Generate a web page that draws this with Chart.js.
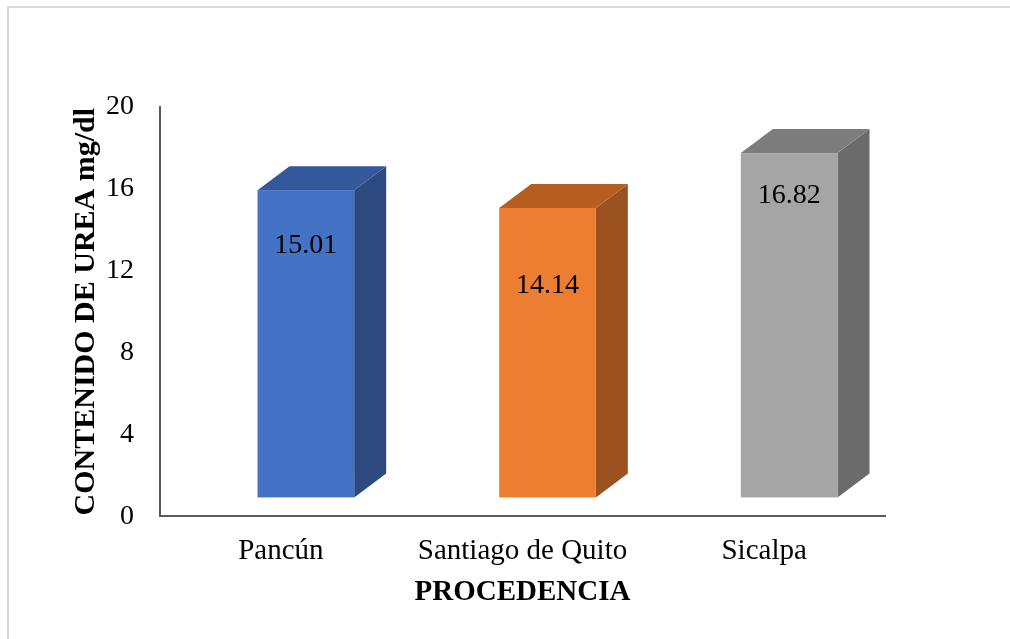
<!DOCTYPE html>
<html>
<head>
<meta charset="utf-8">
<script src="https://cdn.jsdelivr.net/npm/chart.js@4/dist/chart.umd.min.js"></script>
<style>
  html, body { margin: 0; padding: 0; background: #fff; }
  #wrap { width: 1010px; height: 639px; position: relative; }
</style>
</head>
<body>
<div id="wrap"><canvas id="chart" width="1010" height="639"></canvas></div>
<script>
const categories = ['Pancún', 'Santiago de Quito', 'Sicalpa'];
const ureaValues = [15.01, 14.14, 16.82];
const yMin = 0, yMax = 20, yStep = 4;

// face colours per bar: front, top, right side
const frontColors = ['#4472C4', '#ED7D31', '#A5A5A5'];
const topColors = ['#34599B', '#B65E22', '#7D7D7D'];
const sideColors = ['#2C4A80', '#9B521F', '#6B6B6B'];

const serif = "'Liberation Serif', 'Times New Roman', serif";

// light frame around the figure
const framePlugin = {
  id: 'frame',
  beforeDraw(chart) {
    const ctx = chart.ctx;
    ctx.save();
    ctx.fillStyle = '#fff';
    ctx.fillRect(0, 0, chart.width, chart.height);
    ctx.strokeStyle = '#d9d9d9';
    ctx.lineWidth = 2;
    ctx.strokeRect(8, 7, chart.width + 20, chart.height + 20);
    ctx.restore();
  }
};

// draws each bar as a box (front, top, side) from the bar element geometry
const boxPlugin = {
  id: 'box3d',
  afterDatasetsDraw(chart, args, opts) {
    const ctx = chart.ctx;
    const meta = chart.getDatasetMeta(0);
    ctx.save();
    meta.data.forEach((el, i) => {
      const w = el.width;
      const x0 = el.x - w / 2 + opts.shiftX;
      const x1 = x0 + w;
      const top = el.y - opts.lift;
      const bot = el.base - opts.lift;
      const dx = opts.depthX, dy = opts.depthY;

      // side
      ctx.fillStyle = sideColors[i];
      ctx.beginPath();
      ctx.moveTo(x1, top);
      ctx.lineTo(x1 + dx, top - dy);
      ctx.lineTo(x1 + dx, bot - dy);
      ctx.lineTo(x1, bot);
      ctx.closePath();
      ctx.fill();

      // top
      ctx.fillStyle = topColors[i];
      ctx.beginPath();
      ctx.moveTo(x0, top);
      ctx.lineTo(x0 + dx, top - dy);
      ctx.lineTo(x1 + dx, top - dy);
      ctx.lineTo(x1, top);
      ctx.closePath();
      ctx.fill();

      // front
      ctx.fillStyle = frontColors[i];
      ctx.fillRect(x0, top, w, bot - top);

      // value label
      ctx.fillStyle = '#000';
      ctx.font = '28px ' + serif;
      ctx.textAlign = 'center';
      ctx.textBaseline = 'middle';
      ctx.fillText(ureaValues[i].toFixed(2), x0 + w / 2, top + opts.labelDrop[i]);
    });
    ctx.restore();
  }
};

new Chart(document.getElementById('chart'), {
  type: 'bar',
  data: {
    labels: categories,
    datasets: [{
      data: ureaValues,
      backgroundColor: 'rgba(0,0,0,0)',
      borderWidth: 0,
      barPercentage: 0.4,
      categoryPercentage: 1
    }]
  },
  options: {
    responsive: false,
    animation: false,
    layout: { padding: { left: 68, top: 107, right: 125, bottom: 9 } },
    plugins: {
      legend: { display: false },
      tooltip: { enabled: false },
      box3d: { shiftX: 25, lift: 19, depthX: 32, depthY: 24, labelDrop: [55, 78, 43] }
    },
    scales: {
      x: {
        grid: { display: false, drawTicks: false },
        border: { display: true, color: '#595959', width: 2 },
        ticks: { color: '#000', font: { family: serif, size: 29 }, padding: 18 },
        title: {
          display: true, text: 'PROCEDENCIA', color: '#000',
          font: { family: serif, size: 29, weight: 'bold' },
          padding: { top: -12, bottom: 20 }
        }
      },
      y: {
        min: yMin, max: yMax,
        grid: { display: false, drawTicks: false },
        border: { display: true, color: '#595959', width: 2 },
        ticks: { stepSize: yStep, color: '#000', font: { family: serif, size: 28 }, padding: 26 },
        title: {
          display: true, text: 'CONTENIDO DE UREA mg/dl', color: '#000',
          font: { family: serif, size: 30, weight: 'bold' },
          padding: { top: 0, bottom: 0 }
        },
        afterFit(scale) { scale.width = 92; }
      }
    }
  },
  plugins: [framePlugin, boxPlugin]
});
</script>
</body>
</html>
